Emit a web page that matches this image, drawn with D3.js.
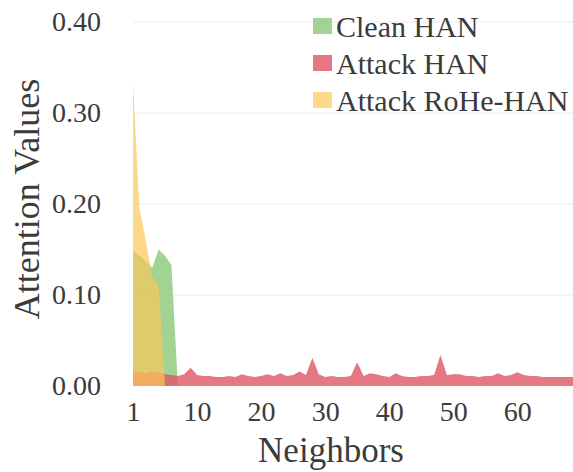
<!DOCTYPE html>
<html>
<head>
<meta charset="utf-8">
<script src="https://cdn.jsdelivr.net/npm/d3@7/dist/d3.min.js"></script>
<style>
  html, body { margin: 0; padding: 0; background: #fff; }
  svg { display: block; }
</style>
</head>
<body>
<svg id="chart" width="573" height="472"></svg>
<script>
// Attention weight assigned to each neighbor (index 0 = neighbor 1)
const seriesNames = ["Clean HAN", "Attack HAN", "Attack RoHe-HAN"];
const seriesColors = ["#8cc878", "#e05567", "#fac858"];
const seriesOpacity = [0.8, 0.8, 0.7];

const cleanHAN = [0.148, 0.143, 0.138, 0.130, 0.150, 0.143, 0.133, 0.0];
const attackHAN = [
  0.015, 0.016, 0.014, 0.016, 0.015, 0.013, 0.012, 0.011, 0.013, 0.020,
  0.012, 0.011, 0.011, 0.010, 0.010, 0.011, 0.010, 0.013, 0.011, 0.010,
  0.011, 0.013, 0.011, 0.014, 0.011, 0.012, 0.016, 0.012, 0.031, 0.013,
  0.010, 0.011, 0.010, 0.010, 0.011, 0.026, 0.011, 0.014, 0.013, 0.011,
  0.010, 0.014, 0.011, 0.010, 0.010, 0.011, 0.011, 0.012, 0.034, 0.012,
  0.013, 0.013, 0.011, 0.011, 0.010, 0.011, 0.011, 0.014, 0.011, 0.012,
  0.015, 0.012, 0.011, 0.011, 0.010, 0.010, 0.010, 0.010, 0.010, 0.010
];
const attackRoHe = [0.335, 0.195, 0.160, 0.120, 0.110, 0.0];

const yTicks = [0.0, 0.1, 0.2, 0.3, 0.4];
const xTickIndex = [0, 10, 20, 30, 40, 50, 60];
const xTickLabels = ["1", "10", "20", "30", "40", "50", "60"];

const svg = d3.select("#chart");
const font = "'Liberation Serif', 'Times New Roman', serif";
const textColor = "#3b3b3b";

const plotLeft = 133, plotRight = 575, plotTop = 22, plotBottom = 386;

const x = d3.scaleLinear().domain([0, attackHAN.length - 1]).range([plotLeft, plotRight]);
const y = d3.scaleLinear().domain([0, 0.4]).range([plotBottom, plotTop]);

// horizontal grid lines
svg.append("g")
  .selectAll("line")
  .data(yTicks.filter(v => v > 0))
  .join("line")
  .attr("x1", plotLeft).attr("x2", 573)
  .attr("y1", d => y(d)).attr("y2", d => y(d))
  .attr("stroke", "#ececec").attr("stroke-width", 1);

// y axis labels
const yAxis = d3.axisLeft(y).tickValues(yTicks).tickFormat(d3.format(".2f")).tickSize(0).tickPadding(32);
const gy = svg.append("g").attr("transform", `translate(${plotLeft},0)`).call(yAxis);
gy.select(".domain").remove();
gy.selectAll("text").attr("font-family", font).attr("font-size", 28).attr("fill", textColor);

// x axis labels
const xAxis = d3.axisBottom(x).tickValues(xTickIndex).tickFormat((d, i) => xTickLabels[i]).tickSize(0).tickPadding(15);
const gx = svg.append("g").attr("transform", `translate(0,${plotBottom})`).call(xAxis);
gx.select(".domain").remove();
gx.selectAll("text").attr("font-family", font).attr("font-size", 28).attr("fill", textColor);

// area series, drawn in legend order
const area = d3.area()
  .x((d, i) => x(i))
  .y0(y(0))
  .y1(d => y(d));

const allSeries = [cleanHAN, attackHAN, attackRoHe];
allSeries.forEach((values, k) => {
  svg.append("path")
    .datum(values)
    .attr("d", area)
    .attr("fill", seriesColors[k])
    .attr("fill-opacity", seriesOpacity[k]);
});

// axis titles
svg.append("text")
  .attr("x", 331).attr("y", 462)
  .attr("text-anchor", "middle")
  .attr("font-family", font).attr("font-size", 35)
  .attr("fill", textColor)
  .text("Neighbors");

svg.append("text")
  .attr("transform", "translate(39,199) rotate(-90)")
  .attr("text-anchor", "middle")
  .attr("font-family", font).attr("font-size", 36)
  .attr("fill", textColor)
  .text("Attention Values");

// legend
const legend = svg.append("g").attr("transform", "translate(313,0)");
const rowY = [26, 63, 100];
seriesNames.forEach((name, k) => {
  legend.append("rect")
    .attr("x", 0).attr("y", rowY[k] - 8)
    .attr("width", 19).attr("height", 16)
    .attr("fill", seriesColors[k])
    .attr("fill-opacity", seriesOpacity[k]);
  legend.append("text")
    .attr("x", 23).attr("y", rowY[k])
    .attr("dy", "0.35em")
    .attr("font-family", font).attr("font-size", 30)
    .attr("fill", textColor)
    .text(name);
});
</script>
</body>
</html>
